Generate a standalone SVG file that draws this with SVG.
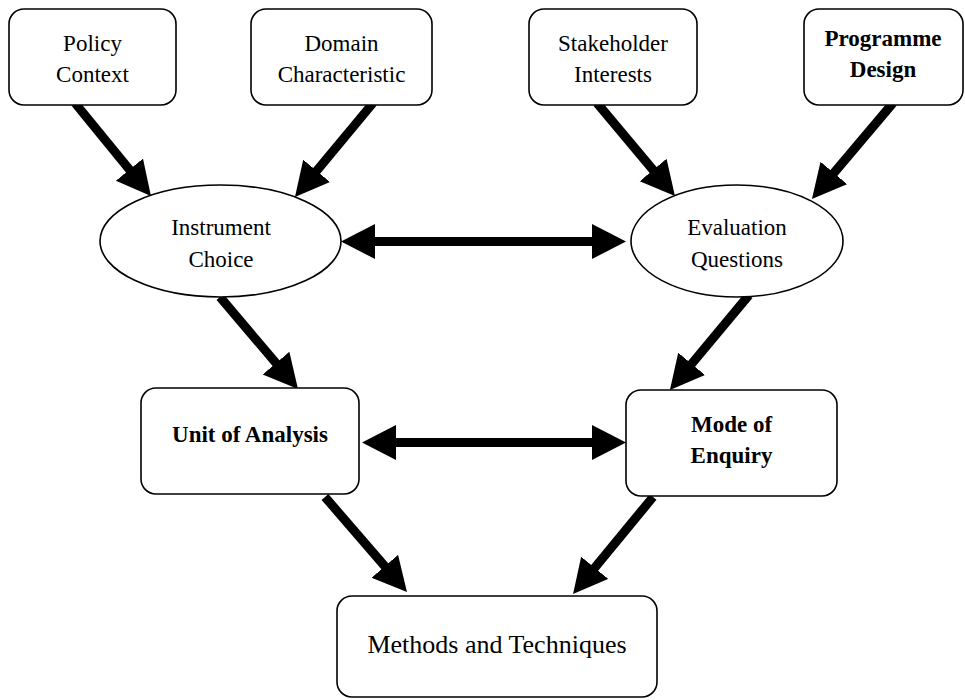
<svg xmlns="http://www.w3.org/2000/svg" width="965" height="700" viewBox="0 0 965 700">
<style>
.box{fill:#fff;stroke:#000;stroke-width:1.6}
.t{font-family:"Liberation Serif","Times New Roman",serif;font-size:23px;fill:#000;text-anchor:middle}
.b{font-weight:bold}
.big{font-size:26px}
.c{stroke:#000;stroke-width:9;fill:none}
</style>
<defs>
<marker id="ah" markerUnits="userSpaceOnUse" markerWidth="36" markerHeight="36" refX="2" refY="17.5" orient="auto-start-reverse" viewBox="0 0 36 36">
<path d="M0,0 L34,17.5 L0,35 z" fill="#000"/>
</marker>
</defs>
<rect width="965" height="700" fill="#fff"/>
<g id="connectors">
<line class="c" x1="75" y1="103" x2="130.7" y2="171.2" marker-end="url(#ah)"/>
<line class="c" x1="373" y1="103" x2="315.4" y2="172.4" marker-end="url(#ah)"/>
<line class="c" x1="597" y1="103" x2="654.4" y2="171.5" marker-end="url(#ah)"/>
<line class="c" x1="893" y1="103" x2="832.6" y2="174.5" marker-end="url(#ah)"/>
<line class="c" x1="220" y1="297" x2="277.3" y2="364.6" marker-end="url(#ah)"/>
<line class="c" x1="749" y1="295" x2="690.4" y2="365.4" marker-end="url(#ah)"/>
<line class="c" x1="325" y1="497" x2="386.1" y2="567.8" marker-end="url(#ah)"/>
<line class="c" x1="653" y1="497" x2="593.4" y2="569.3" marker-end="url(#ah)"/>
<line class="c" x1="373" y1="241.5" x2="594" y2="241.5" marker-start="url(#ah)" marker-end="url(#ah)"/>
<line class="c" x1="394" y1="442.5" x2="594" y2="442.5" marker-start="url(#ah)" marker-end="url(#ah)"/>
</g>
<g id="policy-context">
<rect class="box" x="9" y="9" width="167" height="96" rx="15"/>
<text class="t" x="92.5" y="51">Policy</text>
<text class="t" x="92.5" y="82">Context</text>
</g>
<g id="domain-characteristic">
<rect class="box" x="251" y="9" width="181" height="96" rx="15"/>
<text class="t" x="341.5" y="51">Domain</text>
<text class="t" x="341.5" y="82">Characteristic</text>
</g>
<g id="stakeholder-interests">
<rect class="box" x="529" y="9" width="168" height="96" rx="15"/>
<text class="t" x="613" y="51">Stakeholder</text>
<text class="t" x="613" y="82">Interests</text>
</g>
<g id="programme-design">
<rect class="box" x="804" y="9" width="159" height="96" rx="15"/>
<text class="t b" x="883" y="46">Programme</text>
<text class="t b" x="883" y="77">Design</text>
</g>
<g id="instrument-choice">
<ellipse class="box" cx="220.5" cy="241" rx="120.5" ry="56"/>
<text class="t" x="221" y="235">Instrument</text>
<text class="t" x="221" y="267">Choice</text>
</g>
<g id="evaluation-questions">
<ellipse class="box" cx="737" cy="241" rx="106" ry="56"/>
<text class="t" x="737" y="235">Evaluation</text>
<text class="t" x="737" y="267">Questions</text>
</g>
<g id="unit-of-analysis">
<rect class="box" x="141" y="388" width="218" height="106" rx="15"/>
<text class="t b" x="250" y="442">Unit of Analysis</text>
</g>
<g id="mode-of-enquiry">
<rect class="box" x="626" y="390" width="211" height="106" rx="15"/>
<text class="t b" x="731.5" y="432">Mode of</text>
<text class="t b" x="731.5" y="463">Enquiry</text>
</g>
<g id="methods-and-techniques">
<rect class="box" x="337" y="596" width="320" height="101" rx="15"/>
<text class="t big" x="497" y="653">Methods and Techniques</text>
</g>
</svg>
